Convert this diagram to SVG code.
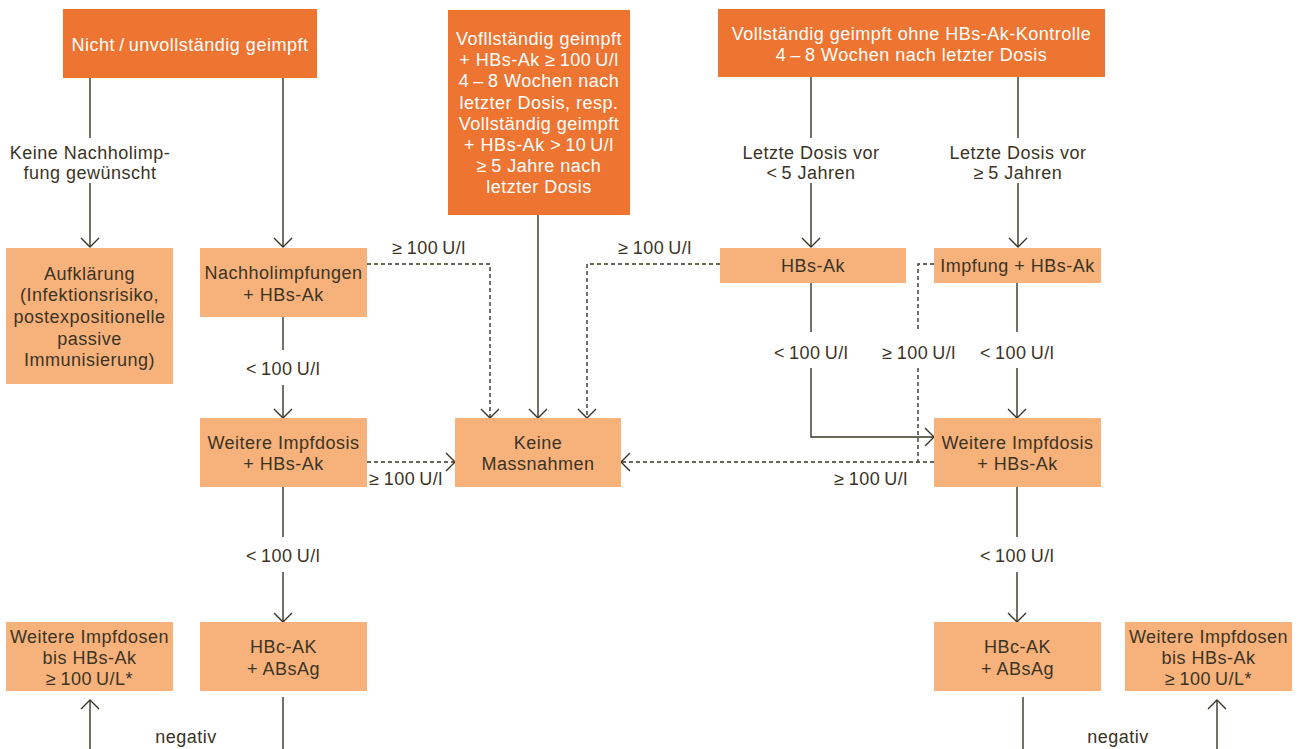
<svg xmlns="http://www.w3.org/2000/svg" width="1301" height="749" viewBox="0 0 1301 749">
<defs>
<style>
.dk{fill:#EE7431}
.lt{fill:#F7B27C}
text{font-family:"Liberation Sans",Arial,sans-serif;font-size:18px;text-anchor:middle;letter-spacing:0.5px}
.w{fill:#FFFFFF}
.b{fill:#3B3424}
.c{fill:none;stroke:#3B3424;stroke-width:1.4}
.d{stroke-dasharray:4 3}
</style>
<marker id="ah" markerUnits="userSpaceOnUse" markerWidth="22" markerHeight="22" viewBox="-11 -11 22 22" refX="0" refY="0" orient="auto">
<path d="M-9,-9 L0,0 L-9,9" fill="none" stroke="#3B3424" stroke-width="1.4"/>
</marker>
</defs>
<rect width="1301" height="749" fill="#FFFFFF"/>
<g id="connectors">
<path class="c" d="M90,78 V138"/>
<path class="c" d="M90,183 V247" marker-end="url(#ah)"/>
<path class="c" d="M283,78 V247" marker-end="url(#ah)"/>
<path class="c" d="M283,317 V350"/>
<path class="c" d="M283,385 V418" marker-end="url(#ah)"/>
<path class="c" d="M283,487 V537"/>
<path class="c" d="M283,572 V622" marker-end="url(#ah)"/>
<path class="c" d="M283,697 V749"/>
<path class="c" d="M90,749 V700" marker-end="url(#ah)"/>
<path class="c" d="M538,215 V418" marker-end="url(#ah)"/>
<path class="c d" d="M367,264 H490 V418" marker-end="url(#ah)"/>
<path class="c d" d="M720,264 H587 V418" marker-end="url(#ah)"/>
<path class="c d" d="M367,462 H455" marker-end="url(#ah)"/>
<path class="c" d="M811,77 V138"/>
<path class="c" d="M811,183 V247" marker-end="url(#ah)"/>
<path class="c" d="M1018,77 V138"/>
<path class="c" d="M1018,183 V247" marker-end="url(#ah)"/>
<path class="c" d="M811,283 V332"/>
<path class="c" d="M811,368 V437 H934" marker-end="url(#ah)"/>
<path class="c" d="M1017,283 V332"/>
<path class="c" d="M1017,368 V418" marker-end="url(#ah)"/>
<path class="c d" d="M934,264 H918 V332"/>
<path class="c d" d="M918,368 V462"/>
<path class="c d" d="M934,462 H621" marker-end="url(#ah)"/>
<path class="c" d="M1017,487 V537"/>
<path class="c" d="M1017,572 V622" marker-end="url(#ah)"/>
<path class="c" d="M1023,697 V749"/>
<path class="c" d="M1217,749 V700" marker-end="url(#ah)"/>
<g class="b">
<text x="90" y="158.5">Keine Nachholimp-</text>
<text x="90" y="178.5">fung gewünscht</text>
<text x="429" y="253.5">≥&#8201;100&#8201;U/l</text>
<text x="655" y="253.5">≥&#8201;100&#8201;U/l</text>
<text x="283" y="374.5">&lt;&#8201;100&#8201;U/l</text>
<text x="406" y="485">≥&#8201;100&#8201;U/l</text>
<text x="811" y="158.5">Letzte Dosis vor</text>
<text x="811" y="178.5">&lt;&#8201;5 Jahren</text>
<text x="1018" y="158.5">Letzte Dosis vor</text>
<text x="1018" y="178.5">≥&#8201;5 Jahren</text>
<text x="811" y="358.5">&lt;&#8201;100&#8201;U/l</text>
<text x="919" y="358.5">≥&#8201;100&#8201;U/l</text>
<text x="1017" y="358.5">&lt;&#8201;100&#8201;U/l</text>
<text x="871" y="485">≥&#8201;100&#8201;U/l</text>
<text x="283" y="561.5">&lt;&#8201;100&#8201;U/l</text>
<text x="1017" y="561.5">&lt;&#8201;100&#8201;U/l</text>
<text x="186" y="743">negativ</text>
<text x="1118" y="743">negativ</text>
</g>
</g>
<g id="n1">
<rect class="dk" x="63" y="9" width="254" height="69"/>
<text class="w" x="190" y="51">Nicht&#8201;/&#8201;unvollständig geimpft</text>
</g>
<g id="n2">
<rect class="dk" x="448" y="10" width="182" height="205"/>
<text class="w" x="539" y="45">Vofllständig geimpft</text>
<text class="w" x="539" y="66.2">+ HBs-Ak ≥&#8201;100&#8201;U/l</text>
<text class="w" x="539" y="87.4">4&#8201;–&#8201;8 Wochen nach</text>
<text class="w" x="539" y="108.6">letzter Dosis, resp.</text>
<text class="w" x="539" y="129.8">Vollständig geimpft</text>
<text class="w" x="539" y="151">+ HBs-Ak &gt;&#8201;10&#8201;U/l</text>
<text class="w" x="539" y="172.2">≥&#8201;5 Jahre nach</text>
<text class="w" x="539" y="193.4">letzter Dosis</text>
</g>
<g id="n3">
<rect class="dk" x="718" y="9" width="387" height="68"/>
<text class="w" x="911.5" y="40">Vollständig geimpft ohne HBs-Ak-Kontrolle</text>
<text class="w" x="911.5" y="61">4&#8201;–&#8201;8 Wochen nach letzter Dosis</text>
</g>
<g id="n4">
<rect class="lt" x="6" y="248" width="167" height="136"/>
<text class="b" x="89.5" y="279.5">Aufklärung</text>
<text class="b" x="89.5" y="301.2">(Infektionsrisiko,</text>
<text class="b" x="89.5" y="322.9">postexpositionelle</text>
<text class="b" x="89.5" y="344.6">passive</text>
<text class="b" x="89.5" y="366.3">Immunisierung)</text>
</g>
<g id="n5">
<rect class="lt" x="200" y="248" width="167" height="69"/>
<text class="b" x="283.5" y="278.5">Nachholimpfungen</text>
<text class="b" x="283.5" y="300.5">+ HBs-Ak</text>
</g>
<g id="n6">
<rect class="lt" x="200" y="418" width="167" height="69"/>
<text class="b" x="283.5" y="448.5">Weitere Impfdosis</text>
<text class="b" x="283.5" y="470">+ HBs-Ak</text>
</g>
<g id="n7">
<rect class="lt" x="200" y="622" width="167" height="69"/>
<text class="b" x="283.5" y="652.5">HBc-AK</text>
<text class="b" x="283.5" y="674.5">+ ABsAg</text>
</g>
<g id="n8">
<rect class="lt" x="6" y="622" width="167" height="69"/>
<text class="b" x="89.5" y="642.5">Weitere Impfdosen</text>
<text class="b" x="89.5" y="663.5">bis HBs-Ak</text>
<text class="b" x="89.5" y="684.5">≥&#8201;100&#8201;U/L*</text>
</g>
<g id="n9">
<rect class="lt" x="455" y="418" width="166" height="69"/>
<text class="b" x="538" y="448.5">Keine</text>
<text class="b" x="538" y="470">Massnahmen</text>
</g>
<g id="n10">
<rect class="lt" x="720" y="248" width="186" height="35"/>
<text class="b" x="813" y="271.5">HBs-Ak</text>
</g>
<g id="n11">
<rect class="lt" x="934" y="248" width="167" height="35"/>
<text class="b" x="1017.5" y="271.5">Impfung + HBs-Ak</text>
</g>
<g id="n12">
<rect class="lt" x="934" y="418" width="167" height="69"/>
<text class="b" x="1017.5" y="448.5">Weitere Impfdosis</text>
<text class="b" x="1017.5" y="470">+ HBs-Ak</text>
</g>
<g id="n13">
<rect class="lt" x="934" y="622" width="167" height="69"/>
<text class="b" x="1017.5" y="652.5">HBc-AK</text>
<text class="b" x="1017.5" y="674.5">+ ABsAg</text>
</g>
<g id="n14">
<rect class="lt" x="1125" y="622" width="167" height="69"/>
<text class="b" x="1208.5" y="642.5">Weitere Impfdosen</text>
<text class="b" x="1208.5" y="663.5">bis HBs-Ak</text>
<text class="b" x="1208.5" y="684.5">≥&#8201;100&#8201;U/L*</text>
</g>
</svg>
